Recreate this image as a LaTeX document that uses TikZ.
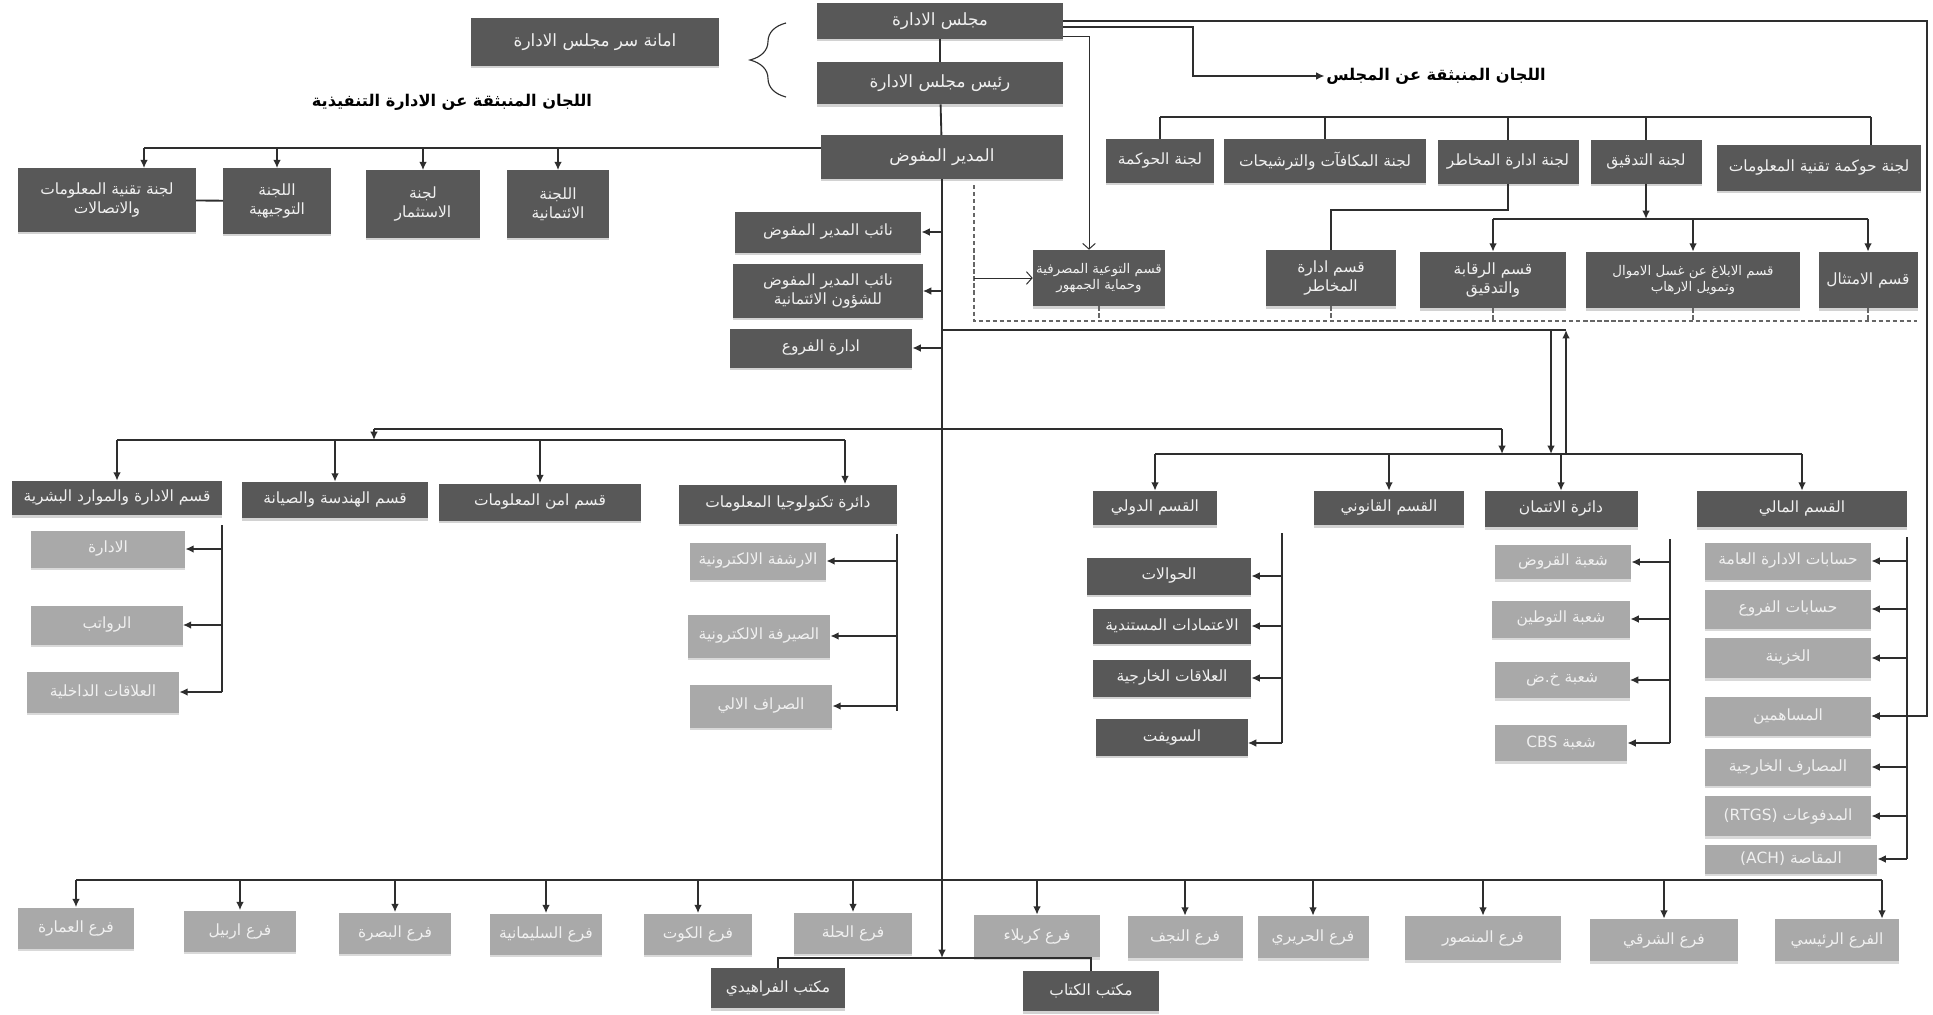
\documentclass[tikz,border=0pt]{standalone}
\usepackage{fontspec}
\newfontfamily\arabicfont[Script=Arabic]{DejaVu Sans}
\TeXXeTstate=1
\usetikzlibrary{calc}
\usetikzlibrary{arrows.meta}
\usetikzlibrary{shadows}
\usetikzlibrary{decorations.pathreplacing}
\newcommand{\artx}[1]{\beginR#1\endR}
\definecolor{boxdark}{HTML}{585858}
\definecolor{boxlight}{HTML}{A9A9A9}
\definecolor{linegray}{HTML}{2E2E2E}
\tikzset{x=0.025cm, y=-0.025cm, % one unit is one pixel of the scan
  every node/.style={align=center, inner sep=1pt, text=white!94!black,
    font=\arabicfont\fontsize{11}{13.5}\selectfont},
  dark/.style={fill=boxdark, drop shadow={shadow xshift=0pt, shadow yshift=-2pt, fill=gray!35, opacity=1}},    % upper levels
  light/.style={fill=boxlight, drop shadow={shadow xshift=0pt, shadow yshift=-2pt, fill=gray!30, opacity=1}},  % sections and branches
  big/.style={font=\arabicfont\fontsize{12}{14}\selectfont},
  small/.style={font=\arabicfont\fontsize{9.5}{12}\selectfont},
  size/.style 2 args={minimum width=#1*0.25mm, minimum height=#2*0.25mm},
  title/.style={text=black, font=\arabicfont\bfseries\fontsize{11.5}{13}\selectfont},
  conn/.style={draw=linegray, line width=1.3pt},
  trunk/.style={conn, line width=2pt},
  arr/.style={conn, -{Latex[length=6pt,width=5.5pt]}},
  openarr/.style={draw=linegray, line width=0.7pt, -{Straight Barb[length=4pt,width=9pt]}},
  dashline/.style={draw=gray!80!black, line width=1pt, dash pattern=on 3pt off 2pt}}

\begin{document}
\begin{tikzpicture}
  \fill[white] (0,0) rectangle (1933,1014);
  \useasboundingbox (0,0) rectangle (1933,1014);

  % board and top management
  \node[dark, big, size={246}{35}] (board) at (940,21) {\artx{مجلس الادارة}};
  \node[dark, big, size={247}{47}] (secr) at (595,42) {\artx{امانة سر مجلس الادارة}};
  \node[dark, big, size={246}{42}] (chair) at (940,83) {\artx{رئيس مجلس الادارة}};
  \node[dark, big, size={241}{43}] (ceo) at (942,157) {\artx{المدير المفوض}};
  \draw[conn] (board) -- (chair);
  \draw[conn] (chair) -- (ceo);
  \draw[draw=linegray, line width=0.8pt, decorate, decoration={brace, amplitude=9mm}]
    (786,97) -- (786,23);

  \node[title] (exlabel) at (452,102) {\artx{اللجان المنبثقة عن الادارة التنفيذية}};
  \node[title] (bclabel) at (1436,76) {\artx{اللجان المنبثقة عن المجلس}};

  % committees of the executive management
  \node[dark, size={177}{63}] (itcom) at (107,200) {\artx{لجنة تقنية المعلومات}\\\artx{والاتصالات}};
  \node[dark, size={107}{65}] (steer) at (277,201) {\artx{اللجنة}\\\artx{التوجيهية}};
  \node[dark, size={113}{67}] (invest) at (423,204) {\artx{لجنة}\\\artx{الاستثمار}};
  \node[dark, size={101}{67}] (creditcom) at (558,204) {\artx{اللجنة}\\\artx{الائتمانية}};
  \coordinate (exbus) at (0,148);
  \coordinate (itcomin) at ($(itcom.north)+(37,0)$);
  \draw[conn] (ceo.west |- exbus) -- (itcomin |- exbus);
  \draw[arr] (itcomin |- exbus) -- (itcomin);
  \draw[arr] (steer.north |- exbus) -- (steer.north);
  \draw[arr] (invest.north |- exbus) -- (invest.north);
  \draw[arr] (creditcom.north |- exbus) -- (creditcom.north);
  \draw[conn] (itcom) -- (steer);

  % deputies
  \node[dark, size={186}{41}] (dep1) at (828,232) {\artx{نائب المدير المفوض}};
  \node[dark, size={189}{53}] (dep2) at (828,291) {\artx{نائب المدير المفوض}\\\artx{للشؤون الائتمانية}};
  \node[dark, size={182}{39}] (brmgmt) at (821,348) {\artx{ادارة الفروع}};
  \draw[arr] (ceo.south |- dep1) -- (dep1);
  \draw[arr] (ceo.south |- dep2) -- (dep2);
  \draw[arr] (ceo.south |- brmgmt) -- (brmgmt);

  % committees of the board
  \node[dark, size={108}{43}] (gov) at (1160,161) {\artx{لجنة الحوكمة}};
  \node[dark, size={202}{43}] (reward) at (1325,161) {\artx{لجنة المكافآت والترشيحات}};
  \node[dark, size={141}{43}] (riskcom) at (1508,162) {\artx{لجنة ادارة المخاطر}};
  \node[dark, size={111}{43}] (audit) at (1646,162) {\artx{لجنة التدقيق}};
  \node[dark, size={204}{45}] (itgov) at (1819,168) {\artx{لجنة حوكمة تقنية المعلومات}};
  \coordinate (bcbus) at (0,117);
  \coordinate (itgovin) at ($(itgov.north)+(52,0)$);
  \draw[conn] (gov.north |- bcbus) -- (itgovin |- bcbus);
  \draw[conn] (gov.north |- bcbus) -- (gov.north);
  \draw[conn] (reward.north |- bcbus) -- (reward.north);
  \draw[conn] (riskcom.north |- bcbus) -- (riskcom.north);
  \draw[conn] (audit.north |- bcbus) -- (audit.north);
  \draw[conn] (itgovin |- bcbus) -- (itgovin);

  % sections under the board
  \node[dark, small, size={132}{56}] (aware) at (1099,278) {\artx{قسم التوعية المصرفية}\\\artx{وحماية الجمهور}};
  \node[dark, size={130}{56}] (risk) at (1331,278) {\artx{قسم ادارة}\\\artx{المخاطر}};
  \node[dark, size={146}{56}] (control) at (1493,280) {\artx{قسم الرقابة}\\\artx{والتدقيق}};
  \node[dark, small, size={213}{56}] (aml) at (1693,280) {\artx{قسم الابلاغ عن غسل الاموال}\\\artx{وتمويل الارهاب}};
  \node[dark, size={99}{56}] (comply) at (1868,280) {\artx{قسم الامتثال}};
  \coordinate (riskmid) at (0,210);
  \draw[conn] (riskcom.south) -- (riskcom.south |- riskmid) -| (risk.north);
  \coordinate (audbus) at (0,219);
  \draw[arr] (audit.south) -- (audit.south |- audbus);
  \draw[conn] (control.north |- audbus) -- (comply.north |- audbus);
  \draw[arr] (control.north |- audbus) -- (control.north);
  \draw[arr] (aml.north |- audbus) -- (aml.north);
  \draw[arr] (comply.north |- audbus) -- (comply.north);

  % lines leaving the board on the right
  \coordinate (rightedge) at (1927,21);
  \coordinate (bcturn) at (1193,27);
  \coordinate (awturn) at (1089,36);
  \draw[openarr] (board.east |- awturn) -- (awturn) -- (awturn |- aware.north);
  \draw[arr] (board.east |- bcturn) -- (bcturn) |- (bclabel.west);

  % dashed frame
  \coordinate (dashtop) at (974,185);
  \coordinate (dashend) at (1917,321);
  \draw[dashline] (dashtop) |- (dashend);
  \draw[dashline] (aware.south) -- (aware.south |- dashend);
  \draw[dashline] (risk.south) -- (risk.south |- dashend);
  \draw[dashline] (control.south) -- (control.south |- dashend);
  \draw[dashline] (aml.south) -- (aml.south |- dashend);
  \draw[dashline] (comply.south) -- (comply.south |- dashend);
  \draw[openarr] (dashtop |- aware) -- (aware.west);

  % departments
  \node[dark, size={210}{34}] (hr) at (117,498) {\artx{قسم الادارة والموارد البشرية}};
  \node[dark, size={185}{36}] (eng) at (335,500) {\artx{قسم الهندسة والصيانة}};
  \node[dark, size={201}{37}] (infosec) at (540,502) {\artx{قسم امن المعلومات}};
  \node[dark, size={217}{39}] (itdept) at (788,504) {\artx{دائرة تكنولوجيا المعلومات}};
  \node[dark, size={124}{34}] (intl) at (1155,508) {\artx{القسم الدولي}};
  \node[dark, size={149}{34}] (legal) at (1389,508) {\artx{القسم القانوني}};
  \node[dark, size={153}{36}] (credit) at (1561,509) {\artx{دائرة الائتمان}};
  \node[dark, size={209}{36}] (fin) at (1802,509) {\artx{القسم المالي}};

  \coordinate (midline) at (1566,330);
  \coordinate (splitl) at (374,429);
  \coordinate (splitr) at (1502,429);
  \coordinate (lbus) at (0,440);
  \coordinate (rbus) at (0,454);
  \coordinate (itdeptin) at ($(itdept.north)+(57,0)$);
  \draw[conn] (ceo.south |- midline) -- (midline);
  \draw[arr, line width=1.8pt] ($(midline)+(-15,0)$) -- ($(midline |- rbus)+(-15,0)$);
  \draw[arr, line width=1.8pt] (midline |- rbus) -- (midline);
  \draw[conn] (splitl) -- (splitr);
  \draw[arr] (splitl) -- (splitl |- lbus);
  \draw[arr] (splitr) -- (splitr |- rbus);
  \draw[conn] (hr.north |- lbus) -- (itdeptin |- lbus);
  \draw[arr] (hr.north |- lbus) -- (hr.north);
  \draw[arr] (eng.north |- lbus) -- (eng.north);
  \draw[arr] (infosec.north |- lbus) -- (infosec.north);
  \draw[arr] (itdeptin |- lbus) -- (itdeptin);
  \draw[conn] (intl.north |- rbus) -- (fin.north |- rbus);
  \draw[arr] (intl.north |- rbus) -- (intl.north);
  \draw[arr] (legal.north |- rbus) -- (legal.north);
  \draw[arr] (credit.north |- rbus) -- (credit.north);
  \draw[arr] (fin.north |- rbus) -- (fin.north);

  % human resources
  \node[light, size={154}{37}] (hradmin) at (108,549) {\artx{الادارة}};
  \node[light, size={151}{39}] (salary) at (107,625) {\artx{الرواتب}};
  \node[light, size={152}{41}] (intrel) at (103,692) {\artx{العلاقات الداخلية}};
  \draw[conn] ($(hr.south east)+(0,10)$) -- (hr.east |- intrel);
  \draw[arr] (hr.east |- hradmin) -- (hradmin);
  \draw[arr] (hr.east |- salary) -- (salary);
  \draw[arr] (hr.east |- intrel) -- (intrel);

  % information technology
  \node[light, size={136}{37}] (archive) at (758,561) {\artx{الارشفة الالكترونية}};
  \node[light, size={142}{43}] (ebank) at (759,636) {\artx{الصيرفة الالكترونية}};
  \node[light, size={142}{43}] (atm) at (761,706) {\artx{الصراف الالي}};
  \draw[conn] ($(itdept.south east)+(0,10)$) -- ($(itdept.east |- atm)+(0,5)$);
  \draw[arr] (itdept.east |- archive) -- (archive);
  \draw[arr] (itdept.east |- ebank) -- (ebank);
  \draw[arr] (itdept.east |- atm) -- (atm);

  % international
  \node[dark, size={164}{37}] (transfer) at (1169,576) {\artx{الحوالات}};
  \node[dark, size={158}{35}] (lc) at (1172,626) {\artx{الاعتمادات المستندية}};
  \node[dark, size={158}{37}] (forrel) at (1172,678) {\artx{العلاقات الخارجية}};
  \node[dark, size={151}{37}] (swift) at (1172,737) {\artx{السويفت}};
  \coordinate (intlline) at (1282,533);
  \draw[conn] (intlline) -- ($(intlline |- swift)+(0,6)$);
  \draw[arr] (intlline |- transfer) -- (transfer);
  \draw[arr] (intlline |- lc) -- (lc);
  \draw[arr] (intlline |- forrel) -- (forrel);
  \draw[arr] ($(intlline |- swift)+(0,6)$) -- ($(swift.east)+(0,6)$);

  % credit
  \node[light, size={136}{34}] (loans) at (1563,562) {\artx{شعبة القروض}};
  \node[light, size={138}{37}] (salloc) at (1561,619) {\artx{شعبة التوطين}};
  \node[light, size={135}{36}] (lg) at (1562,680) {\artx{شعبة خ.ض}};
  \node[light, size={132}{36}] (cbs) at (1561,743) {\artx{شعبة \beginL CBS\endL}};
  \coordinate (credline) at (1670,539);
  \draw[conn] (credline) -- (credline |- cbs);
  \draw[arr] (credline |- loans) -- (loans);
  \draw[arr] (credline |- salloc) -- (salloc);
  \draw[arr] (credline |- lg) -- (lg);
  \draw[arr] (credline |- cbs) -- (cbs);

  % finance
  \node[light, size={166}{37}] (hqacc) at (1788,561) {\artx{حسابات الادارة العامة}};
  \node[light, size={166}{39}] (bracc) at (1788,609) {\artx{حسابات الفروع}};
  \node[light, size={166}{40}] (treas) at (1788,658) {\artx{الخزينة}};
  \node[light, size={166}{39}] (share) at (1788,716) {\artx{المساهمين}};
  \node[light, size={166}{37}] (foreign) at (1788,767) {\artx{المصارف الخارجية}};
  \node[light, size={166}{40}] (rtgs) at (1788,816) {\artx{المدفوعات \beginL(RTGS)\endL}};
  \node[light, size={172}{29}] (ach) at (1791,859) {\artx{المقاصة \beginL(ACH)\endL}};
  \draw[conn] ($(fin.south east)+(0,10)$) -- (fin.east |- ach);
  \draw[arr] (fin.east |- hqacc) -- (hqacc);
  \draw[arr] (fin.east |- bracc) -- (bracc);
  \draw[arr] (fin.east |- treas) -- (treas);
  \draw[arr] (fin.east |- share) -- (share);
  \draw[arr] (fin.east |- foreign) -- (foreign);
  \draw[arr] (fin.east |- rtgs) -- (rtgs);
  \draw[arr] (fin.east |- ach) -- (ach);
  \draw[arr] (board.east) -- (rightedge) |- (share.east);

  % branches
  \node[light, size={115}{41}] (amara) at (76,928) {\artx{فرع العمارة}};
  \node[light, size={111}{41}] (erbil) at (240,931) {\artx{فرع اربيل}};
  \node[light, size={111}{41}] (basra) at (395,933) {\artx{فرع البصرة}};
  \node[light, size={111}{41}] (sulai) at (546,934) {\artx{فرع السليمانية}};
  \node[light, size={108}{41}] (kut) at (698,934) {\artx{فرع الكوت}};
  \node[light, size={117}{41}] (hilla) at (853,933) {\artx{فرع الحلة}};
  \node[light, size={126}{42}] (karbala) at (1037,936) {\artx{فرع كربلاء}};
  \node[light, size={115}{42}] (najaf) at (1185,937) {\artx{فرع النجف}};
  \node[light, size={111}{42}] (hariri) at (1313,937) {\artx{فرع الحريري}};
  \node[light, size={155}{44}] (mansour) at (1483,938) {\artx{فرع المنصور}};
  \node[light, size={148}{42}] (sharqi) at (1664,940) {\artx{فرع الشرقي}};
  \node[light, size={124}{42}] (mainbr) at (1837,940) {\artx{الفرع الرئيسي}};
  \coordinate (brbus) at (0,880);
  \coordinate (mainbrin) at ($(mainbr.north)+(45,0)$);
  \draw[conn] (amara.north |- brbus) -- (mainbrin |- brbus);
  \draw[arr] (amara.north |- brbus) -- (amara.north);
  \draw[arr] (erbil.north |- brbus) -- (erbil.north);
  \draw[arr] (basra.north |- brbus) -- (basra.north);
  \draw[arr] (sulai.north |- brbus) -- (sulai.north);
  \draw[arr] (kut.north |- brbus) -- (kut.north);
  \draw[arr] (hilla.north |- brbus) -- (hilla.north);
  \draw[arr] (karbala.north |- brbus) -- (karbala.north);
  \draw[arr] (najaf.north |- brbus) -- (najaf.north);
  \draw[arr] (hariri.north |- brbus) -- (hariri.north);
  \draw[arr] (mansour.north |- brbus) -- (mansour.north);
  \draw[arr] (sharqi.north |- brbus) -- (sharqi.north);
  \draw[arr] (mainbrin |- brbus) -- (mainbrin);

  % offices
  \node[dark, size={134}{40}] (farahidi) at (778,988) {\artx{مكتب الفراهيدي}};
  \node[dark, size={136}{40}] (kuttab) at (1091,991) {\artx{مكتب الكتاب}};
  \coordinate (offbus) at (0,958);
  \draw[conn] (farahidi.north) |- (kuttab.north |- offbus) -- (kuttab.north);
  \draw[trunk, -{Latex[length=6pt,width=5.5pt]}] (ceo.south) -- (ceo.south |- offbus);
\end{tikzpicture}
\end{document}
